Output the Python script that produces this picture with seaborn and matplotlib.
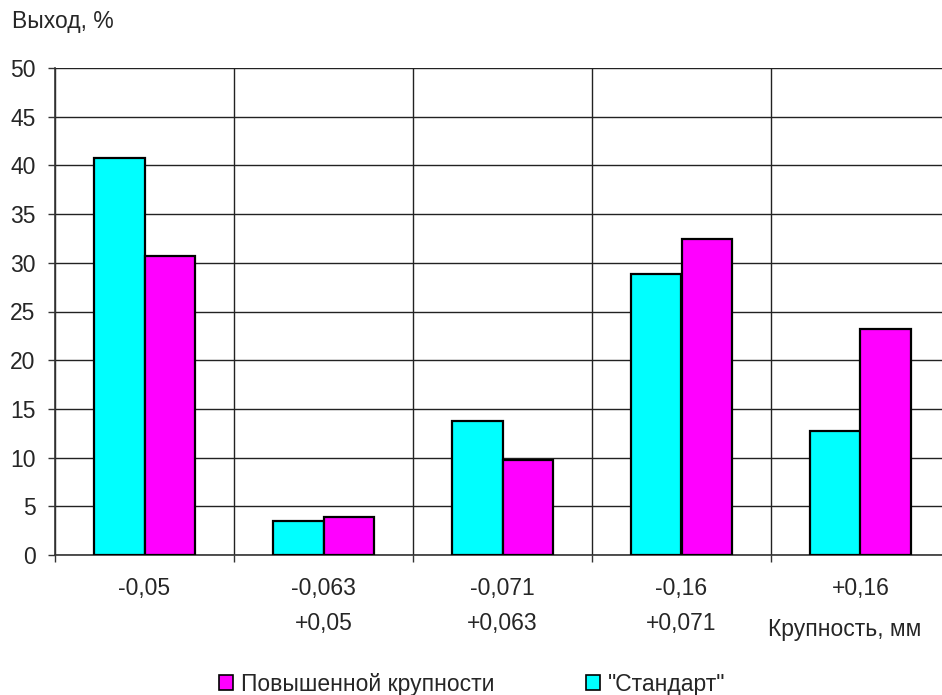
import matplotlib
matplotlib.use("Agg")
import matplotlib.pyplot as plt
from matplotlib.patches import Patch
import seaborn as sns
import pandas as pd

categories = ["-0,05", "-0,063\n+0,05", "-0,071\n+0,063", "-0,16\n+0,071", "+0,16"]
standard = [40.8, 3.5, 13.8, 28.9, 12.7]
coarse = [30.7, 3.9, 9.8, 32.4, 23.2]
series_names = ['"Стандарт"', "Повышенной крупности"]
y_ticks = [0, 5, 10, 15, 20, 25, 30, 35, 40, 45, 50]

sns.set_style("white")
plt.rcParams["font.family"] = ["Liberation Sans", "DejaVu Sans"]
FS = 16.5

df = pd.DataFrame({
    "cat": categories * 2,
    "series": [series_names[0]] * len(categories) + [series_names[1]] * len(categories),
    "value": standard + coarse,
})

fig = plt.figure(figsize=(9.42, 6.95), dpi=100)
ax = fig.add_axes([55 / 942, (695 - 555) / 695, 895 / 942, 487 / 695])

palette = {series_names[0]: "#00FFFF", series_names[1]: "#FF00FF"}
sns.barplot(data=df, x="cat", y="value", hue="series", hue_order=series_names,
            order=categories, palette=palette, width=0.56, gap=0,
            edgecolor="black", linewidth=1.6, saturation=1, ax=ax, legend=False,
            zorder=3)

ax.set_xlim(-0.5, 4.5)
ax.set_ylim(0, 50)
ax.set_yticks(y_ticks)
ax.set_yticklabels([str(t) for t in y_ticks], fontsize=FS)
ax.set_xlabel("")
ax.set_ylabel("")

# category labels at centres, boundary ticks as minor ticks
ax.set_xticks(range(len(categories)))
ax.set_xticklabels(categories, fontsize=FS, linespacing=1.72)
ax.set_xticks([i - 0.5 for i in range(len(categories) + 1)], minor=True)
ax.tick_params(axis="x", which="major", length=0, pad=15.5)
ax.tick_params(axis="x", which="minor", length=5, width=1, color="#333333", direction="out", bottom=True)
ax.tick_params(axis="y", which="major", length=5, width=1, color="#333333", direction="out", left=True, pad=9)

ax.grid(axis="y", which="major", color="#222222", linewidth=1, zorder=0)
ax.grid(axis="x", which="minor", color="#222222", linewidth=1, zorder=0)
ax.grid(axis="x", which="major", visible=False)
ax.set_axisbelow(True)

for s in ["top", "right"]:
    ax.spines[s].set_visible(False)
ax.spines["left"].set_color("#333333")
ax.spines["left"].set_linewidth(1.2)
ax.spines["bottom"].set_color("#333333")
ax.spines["bottom"].set_linewidth(1.2)

fig.text(12 / 942, 1 - 10 / 695, "Выход, %", fontsize=FS, ha="left", va="top")
fig.text(768 / 942, 1 - 618 / 695, "Крупность, мм", fontsize=FS, ha="left", va="top")

handles = [Patch(facecolor="#FF00FF", edgecolor="black", linewidth=1.2),
           Patch(facecolor="#00FFFF", edgecolor="black", linewidth=1.2)]
fig.legend(handles, [series_names[1], series_names[0]], loc="center left",
           bbox_to_anchor=(219 / 942, 1 - 684 / 695), ncol=2, frameon=False,
           fontsize=FS, handlelength=0.6, handleheight=0.6, handletextpad=0.35,
           columnspacing=4.0, borderpad=0, borderaxespad=0)

fig.savefig("out.png", dpi=100)
